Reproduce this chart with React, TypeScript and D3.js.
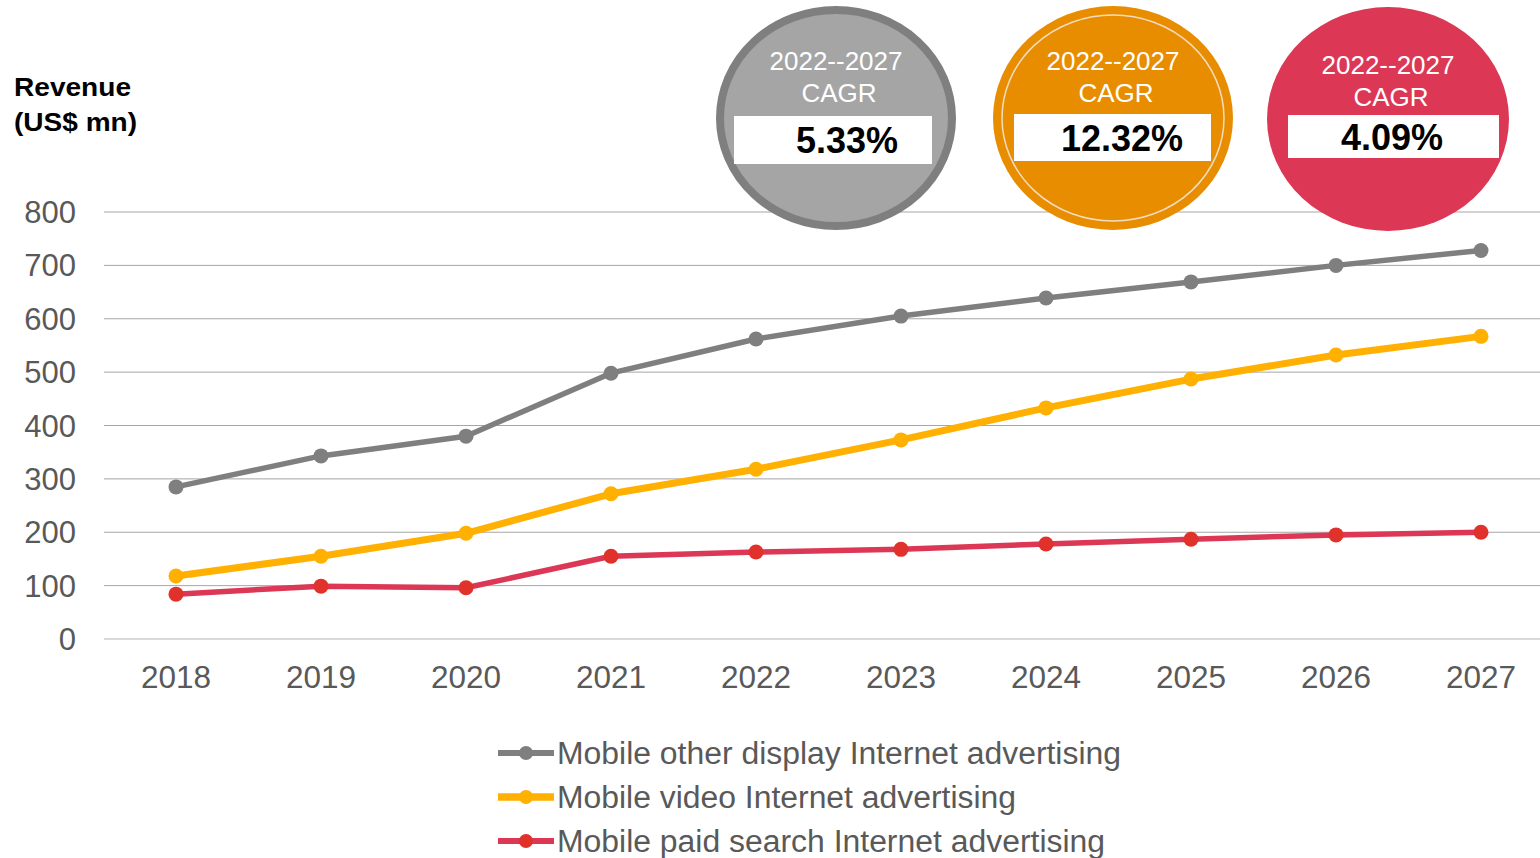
import { useEffect, useRef } from 'react';
import * as d3 from 'd3';

const years = ['2018', '2019', '2020', '2021', '2022', '2023', '2024', '2025', '2026', '2027'];
const otherDisplay = [285, 343, 380, 498, 562, 605, 639, 669, 700, 728];
const video = [118, 155, 198, 272, 318, 373, 433, 487, 532, 567];
const paidSearch = [84, 99, 96, 155, 163, 168, 178, 187, 195, 200];
const yTicks = [0, 100, 200, 300, 400, 500, 600, 700, 800];

const seriesNames = [
    'Mobile other display Internet advertising',
    'Mobile video Internet advertising',
    'Mobile paid search Internet advertising',
];
const cagrLabels = ['5.33%', '12.32%', '4.09%'];

export default function App() {
    const ref = useRef<SVGSVGElement>(null);

    useEffect(() => {
        document.body.style.margin = '0';
        if (!ref.current) return;
        const svg = d3.select(ref.current);
        svg.selectAll('*').remove();

        const font = '"Liberation Sans", Arial, sans-serif';
        const x = d3.scaleBand<string>().domain(years).range([103.5, 1553.5]);
        const y = d3.scaleLinear().domain([0, 800]).range([639, 212]);
        const cx = (d: string) => (x(d) as number) + x.bandwidth() / 2;

        // gridlines
        svg.append('g')
            .selectAll('line')
            .data(yTicks)
            .join('line')
            .attr('x1', 104)
            .attr('x2', 1540)
            .attr('y1', d => y(d))
            .attr('y2', d => y(d))
            .attr('stroke', d => (d === 0 ? '#d9d9d9' : '#a6a6a6'))
            .attr('stroke-width', d => (d === 0 ? 2 : 1));

        // y tick labels
        svg.append('g')
            .selectAll('text')
            .data(yTicks)
            .join('text')
            .attr('x', 76)
            .attr('y', d => y(d) + 11)
            .attr('text-anchor', 'end')
            .attr('font-family', font)
            .attr('font-size', 31)
            .attr('fill', '#595959')
            .text(d => d);

        // x tick labels
        svg.append('g')
            .selectAll('text')
            .data(years)
            .join('text')
            .attr('x', d => cx(d))
            .attr('y', 688)
            .attr('text-anchor', 'middle')
            .attr('font-family', font)
            .attr('font-size', 31.5)
            .attr('fill', '#595959')
            .text(d => d);

        // axis title
        const title = svg.append('text')
            .attr('font-family', font)
            .attr('font-size', 26)
            .attr('font-weight', 'bold')
            .attr('fill', '#000');
        title.append('tspan').attr('x', 14).attr('y', 96)
            .attr('textLength', 117).attr('lengthAdjust', 'spacingAndGlyphs').text('Revenue');
        title.append('tspan').attr('x', 14).attr('y', 131)
            .attr('textLength', 123).attr('lengthAdjust', 'spacingAndGlyphs').text('(US$ mn)');

        const series = [
            { values: otherDisplay, line: '#7f7f7f', dot: '#7f7f7f', width: 5.5 },
            { values: video, line: '#ffb000', dot: '#ffb000', width: 7 },
            { values: paidSearch, line: '#dc3755', dot: '#e1312b', width: 5.5 },
        ];

        const lineGen = d3.line<number>()
            .x((_, i) => cx(years[i]))
            .y(d => y(d));

        series.forEach(s => {
            svg.append('path')
                .attr('d', lineGen(s.values) as string)
                .attr('fill', 'none')
                .attr('stroke', s.line)
                .attr('stroke-width', s.width)
                .attr('stroke-linejoin', 'round');
            svg.append('g')
                .selectAll('circle')
                .data(s.values)
                .join('circle')
                .attr('cx', (_, i) => cx(years[i]))
                .attr('cy', d => y(d))
                .attr('r', 7.5)
                .attr('fill', s.dot);
        });

        // legend
        const legendWidths = [564, 459, 548];
        const legend = svg.append('g');
        series.forEach((s, i) => {
            const ly = 753 + i * 44;
            legend.append('line')
                .attr('x1', 498).attr('x2', 554)
                .attr('y1', ly).attr('y2', ly)
                .attr('stroke', s.line)
                .attr('stroke-width', s.width + 0.5);
            legend.append('circle')
                .attr('cx', 526).attr('cy', ly).attr('r', 7)
                .attr('fill', s.dot);
            legend.append('text')
                .attr('x', 557)
                .attr('y', ly + 11)
                .attr('font-family', font)
                .attr('font-size', 31)
                .attr('fill', '#595959')
                .attr('textLength', legendWidths[i])
                .attr('lengthAdjust', 'spacingAndGlyphs')
                .text(seriesNames[i]);
        });

        // CAGR badges
        const badges = [
            { cx: 836, cy: 118, rx: 116, ry: 108, fill: '#a5a5a5', stroke: '#7f7f7f', sw: 8, inner: false, box: [734, 116, 198, 48], tx: 847 },
            { cx: 1113, cy: 118, rx: 120, ry: 112, fill: '#e88d00', stroke: 'none', sw: 0, inner: true, box: [1014, 114, 197, 47], tx: 1122 },
            { cx: 1388, cy: 119, rx: 121, ry: 112, fill: '#dc3755', stroke: 'none', sw: 0, inner: false, box: [1288, 115, 211, 43], tx: 1392 },
        ];
        badges.forEach((b, i) => {
            const g = svg.append('g');
            g.append('ellipse')
                .attr('cx', b.cx).attr('cy', b.cy)
                .attr('rx', b.rx).attr('ry', b.ry)
                .attr('fill', b.fill)
                .attr('stroke', b.stroke)
                .attr('stroke-width', b.sw);
            if (b.inner) {
                g.append('ellipse')
                    .attr('cx', b.cx).attr('cy', b.cy)
                    .attr('rx', b.rx - 9).attr('ry', b.ry - 9)
                    .attr('fill', 'none')
                    .attr('stroke', '#f3dcc0')
                    .attr('stroke-width', 1.5);
            }
            g.append('text')
                .attr('x', b.cx).attr('y', i === 2 ? 74 : 70)
                .attr('text-anchor', 'middle')
                .attr('font-family', font)
                .attr('font-size', 26)
                .attr('fill', '#fff')
                .text('2022--2027');
            g.append('text')
                .attr('x', b.cx + 3).attr('y', i === 2 ? 106 : 102)
                .attr('text-anchor', 'middle')
                .attr('font-family', font)
                .attr('font-size', 26)
                .attr('fill', '#fff')
                .text('CAGR');
            g.append('rect')
                .attr('x', b.box[0]).attr('y', b.box[1])
                .attr('width', b.box[2]).attr('height', b.box[3])
                .attr('fill', '#fff');
            g.append('text')
                .attr('x', b.tx).attr('y', b.box[1] + b.box[3] / 2 + 13)
                .attr('text-anchor', 'middle')
                .attr('font-family', font)
                .attr('font-size', 36)
                .attr('font-weight', 'bold')
                .attr('fill', '#000')
                .text(cagrLabels[i]);
        });
    }, []);

    return <svg ref={ref} width={1540} height={858} style={{ display: 'block', background: '#fff' }} />;
}
